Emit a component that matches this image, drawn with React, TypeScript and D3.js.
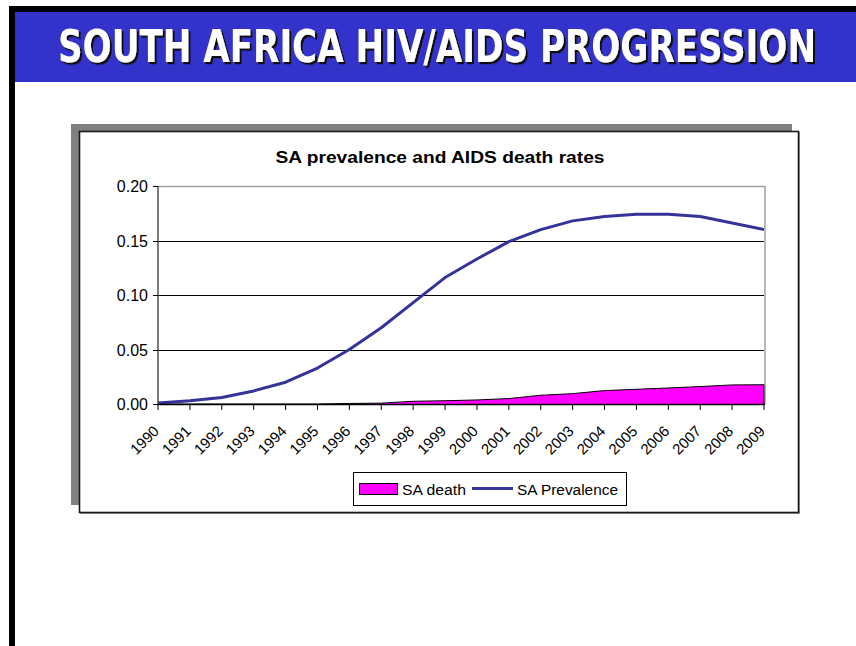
import React from "react";
import * as d3 from "d3";

const years = ["1990","1991","1992","1993","1994","1995","1996","1997","1998","1999","2000","2001","2002","2003","2004","2005","2006","2007","2008","2009"];
const prevalence = [0.001,0.003,0.006,0.012,0.020,0.033,0.050,0.070,0.093,0.116,0.133,0.149,0.160,0.168,0.172,0.174,0.174,0.172,0.166,0.160];
const deaths = [0,0,0,0,0,0,0.0005,0.0008,0.0025,0.003,0.0037,0.005,0.008,0.0095,0.0123,0.0135,0.0147,0.016,0.0175,0.0177];
const yTicks = [0, 0.05, 0.1, 0.15, 0.2];

const slideTitle = "SOUTH AFRICA HIV/AIDS PROGRESSION";
const chartTitle = "SA prevalence and AIDS death rates";
const seriesNames = ["SA death", "SA Prevalence"];

export default function App() {
  const W = 856, H = 646;
  const x0 = 158, x1 = 764, yTop = 186, yBot = 404;
  const x = d3.scalePoint<string>().domain(years).range([x0, x1]);
  const y = d3.scaleLinear().domain([0, 0.2]).range([yBot, yTop]);
  const line = d3.line<number>().x((_, i) => x(years[i])!).y(d => y(d));
  const area = d3.area<number>().x((_, i) => x(years[i])!).y0(y(0)).y1(d => y(d));
  const font = "'Liberation Sans', Arial, sans-serif";
  const crisp = (v: number) => Math.round(v) + 0.5;

  return (
    <svg width={W} height={H} style={{ position: "absolute", left: 0, top: 0 }}>
      <defs>
        <filter id="tshadow" x="-5%" y="-30%" width="110%" height="160%">
          <feDropShadow dx={2} dy={2} stdDeviation={0.3} floodColor="#111" floodOpacity={1} />
        </filter>
      </defs>
      <rect x={0} y={0} width={W} height={H} fill="#fff" />
      {/* slide frame */}
      <rect x={9} y={6} width={W - 9} height={6} fill="#000" />
      <rect x={9} y={6} width={6} height={H - 6} fill="#000" />
      <rect x={15} y={12} width={W - 15} height={70} fill="#3333cc" />
      <g transform="scale(1,1.1)">
        <text x={58} y={62 / 1.1} filter="url(#tshadow)" fontFamily="'DejaVu Sans Condensed', 'DejaVu Sans', sans-serif" fontWeight="bold" fontSize={40} fill="#fff" textLength={758} lengthAdjust="spacingAndGlyphs">{slideTitle}</text>
      </g>

      {/* chart shadow & box */}
      <rect x={71} y={124} width={721} height={381} fill="#808080" />
      <rect x={80} y={132} width={720} height={382} fill="#a0a0a0" />
      <rect x={79.5} y={131.5} width={719} height={381} fill="#fff" stroke="#1a1a1a" strokeWidth={1.6} />

      <text x={440} y={163} textAnchor="middle" fontFamily={font} fontWeight="bold" fontSize={17} textLength={329} lengthAdjust="spacingAndGlyphs">{chartTitle}</text>

      {/* gridlines */}
      {yTicks.filter(t => t > 0 && t < 0.2).map(t => (
        <line key={t} x1={x0} x2={x1} y1={crisp(y(t))} y2={crisp(y(t))} stroke="#000" strokeWidth={1} />
      ))}
      <line x1={x0} x2={x1 + 1} y1={yTop + 0.5} y2={yTop + 0.5} stroke="#a0a0a0" strokeWidth={1.5} />
      <line x1={x1 + 1} x2={x1 + 1} y1={yTop} y2={yBot} stroke="#a0a0a0" strokeWidth={1.5} />

      {/* death area */}
      <path d={area(deaths)!} fill="#ff00ff" />
      <path d={line(deaths)!} fill="none" stroke="#000" strokeWidth={1} />
      <line x1={x1} x2={x1} y1={y(deaths[deaths.length - 1])} y2={yBot} stroke="#000" strokeWidth={1} />

      {/* prevalence line */}
      <path d={line(prevalence)!} fill="none" stroke="#333399" strokeWidth={3} strokeLinejoin="round" />

      {/* axes */}
      <line x1={x0} x2={x0} y1={yTop} y2={yBot} stroke="#505050" strokeWidth={1.5} />
      <line x1={x0} x2={x1 + 1} y1={yBot + 0.5} y2={yBot + 0.5} stroke="#000" strokeWidth={1.5} />
      {yTicks.map(t => (
        <g key={t}>
          <line x1={x0 - 5} x2={x0} y1={crisp(y(t))} y2={crisp(y(t))} stroke="#000" strokeWidth={1} />
          <text x={148} y={y(t) + 6} textAnchor="end" fontFamily={font} fontSize={16}>{t.toFixed(2)}</text>
        </g>
      ))}
      {years.map(yr => (
        <g key={yr}>
          <line x1={x(yr)!} x2={x(yr)!} y1={yBot} y2={yBot + 6} stroke="#000" strokeWidth={1} />
          <text transform={`translate(${x(yr)! + 2},${432}) rotate(-45)`} textAnchor="end" fontFamily={font} fontSize={15}>{yr}</text>
        </g>
      ))}

      {/* legend */}
      <rect x={353.5} y={472.5} width={273} height={33} fill="#fff" stroke="#000" strokeWidth={1} />
      <rect x={359.5} y={483.5} width={38} height={11} fill="#ff00ff" stroke="#000" strokeWidth={1} />
      <text x={402} y={495} fontFamily={font} fontSize={15.5} textLength={64} lengthAdjust="spacingAndGlyphs">{seriesNames[0]}</text>
      <line x1={472} x2={513} y1={488.5} y2={488.5} stroke="#333399" strokeWidth={3} />
      <text x={517} y={495} fontFamily={font} fontSize={15.5} textLength={101} lengthAdjust="spacingAndGlyphs">{seriesNames[1]}</text>
    </svg>
  );
}
